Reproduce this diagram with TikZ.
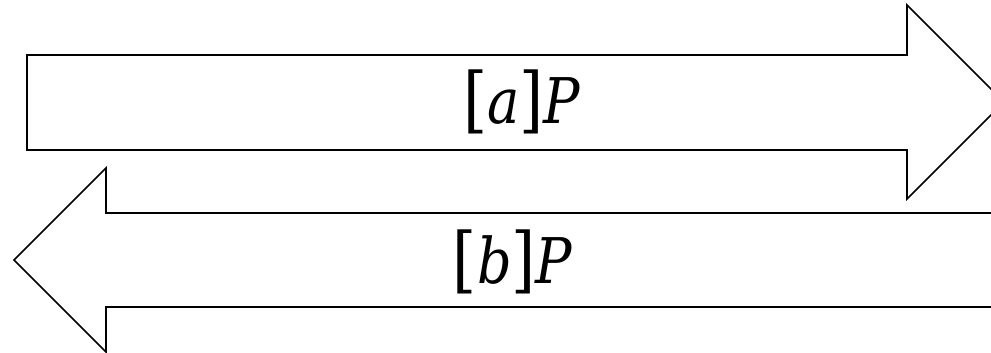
\documentclass[tikz,border=0pt]{standalone}
\usepackage{fontspec}
\usepackage{graphicx}
\setmainfont{DejaVu Serif}
\newcommand{\brk}[1]{{\fontsize{72}{80}\selectfont\raisebox{-0.02em}{#1}}}
\newcommand{\lbltext}[1]{\scalebox{0.86}[1]{\brk{[}\textit{#1}\brk{]}\textit{P}}}
\begin{document}
\begin{tikzpicture}[x=1pt,y=-1pt,
  arr/.style={draw=black,line width=1.6pt,line join=miter,fill=white},
  lbl/.style={font=\fontsize{63}{70}\selectfont,inner sep=0pt}]
\useasboundingbox (0,0) rectangle (991,353);
\clip (0,0) rectangle (991,353);
\draw[arr] (27,55) -- (907,55) -- (907,5) -- (1004,102) -- (907,199) -- (907,150) -- (27,150) -- cycle;
\draw[arr] (1010,213) -- (106,213) -- (106,168) -- (14,260) -- (106,352) -- (106,307) -- (1010,307);
\node[lbl] (ta) at (522,102) {\lbltext{a}};
\node[lbl] (tb) at (513,262) {\lbltext{b}};
\end{tikzpicture}
\end{document}
